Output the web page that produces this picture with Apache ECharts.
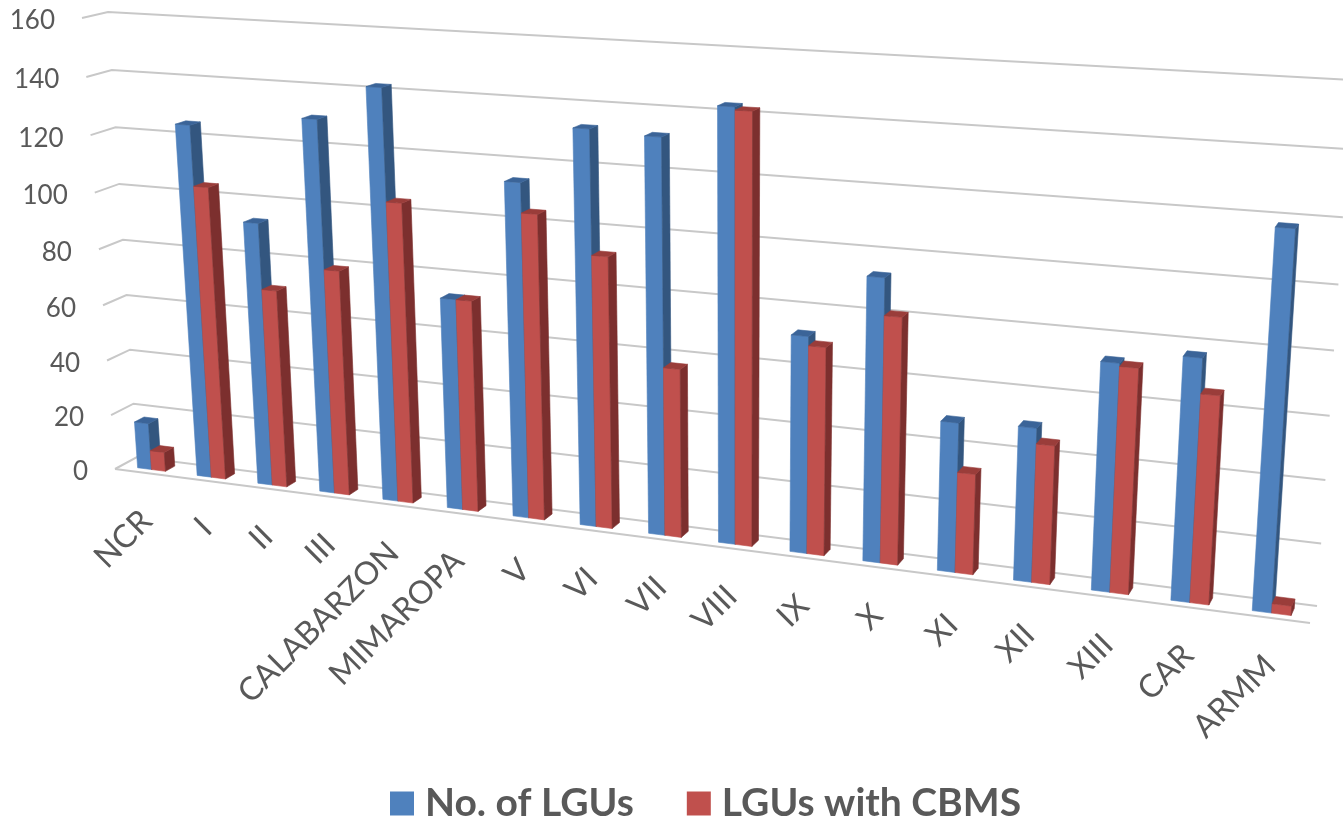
<!DOCTYPE html>
<html><head><meta charset="utf-8">
<style>html,body{margin:0;padding:0;background:#fff}#c{width:1343px;height:821px}</style>
<script src="https://cdn.jsdelivr.net/npm/echarts@6/dist/echarts.min.js"></script>
</head><body><div id="c"></div>
<script>
const categories = ['NCR','I','II','III','CALABARZON','MIMAROPA','V','VI','VII','VIII','IX','X','XI','XII','XIII','CAR','ARMM'];
const lguCount  = [17,125,93,130,142,73,114,133,132,143,72,93,49,50,73,77,118];
const cbmsCount = [7,104,70,79,104,73,104,92,57,142,69,81,33,45,72,66,3];
const valueTicks = [0,20,40,60,80,100,120,140,160];
const seriesNames = ['No. of LGUs','LGUs with CBMS'];

// Perspective of the chart's box: corners [bottom-left, bottom-right, top-right, top-left]
const frontPlane = [[115,469],[1310,623],[1346,88],[82,18]];
const backPlane  = [[137,457],[1317,606],[1352,80],[108,12]];
const barDepth = [0.28, 0.71];
const barWidth = 0.235;
const GREY = '#595959', FONT = 'Lato';

function homography(q){
  const [x0,y0]=q[0],[x1,y1]=q[1],[x2,y2]=q[2],[x3,y3]=q[3];
  const dx1=x1-x2,dx2=x3-x2,sx=x0-x1+x2-x3,dy1=y1-y2,dy2=y3-y2,sy=y0-y1+y2-y3;
  const den=dx1*dy2-dx2*dy1,g=(sx*dy2-dx2*sy)/den,h=(dx1*sy-sx*dy1)/den;
  const a=x1-x0+g*x1,b=x3-x0+h*x3,d=y1-y0+g*y1,e=y3-y0+h*y3;
  return (u,v)=>{const w=g*u+h*v+1;return [(a*u+b*v+x0)/w,(d*u+e*v+y0)/w];};
}
const hFront=homography(frontPlane), hBack=homography(backPlane);
function project(u,v,depth){
  const f=hFront(u,v),b=hBack(u,v);
  return [f[0]+(b[0]-f[0])*depth,f[1]+(b[1]-f[1])*depth];
}
function toUnit(params,pt){
  const g=params.coordSys;
  return [(pt[0]-g.x)/g.width,(g.y+g.height-pt[1])/g.height];
}
function face(points,color){
  return {type:'polygon',shape:{points},style:{fill:color,stroke:color,lineWidth:0.6}};
}
function barRenderer(offset,colors){
  return function(params,api){
    const i=api.value(0),val=api.value(1),band=api.size([1,0])[0];
    const top=api.coord([i,val]),base=api.coord([i,0]);
    const [ua,v1]=toUnit(params,[top[0]+offset*band,top[1]]);
    const [ub]=toUnit(params,[top[0]+(offset+barWidth)*band,top[1]]);
    const [,v0]=toUnit(params,base);
    const [d0,d1]=barDepth;
    return {type:'group',children:[
      face([project(ua,v0,d0),project(ub,v0,d0),project(ub,v1,d0),project(ua,v1,d0)],colors[0]),
      face([project(ub,v0,d0),project(ub,v0,d1),project(ub,v1,d1),project(ub,v1,d0)],colors[1]),
      face([project(ua,v1,d0),project(ub,v1,d0),project(ub,v1,d1),project(ua,v1,d1)],colors[2])
    ]};
  };
}
function gridRenderer(params,api){
  const val=api.value(1),[,v]=toUnit(params,api.coord([0,val]));
  const children=[{type:'polyline',shape:{points:[project(0,v,0),project(0,v,1),project(1,v,1)]},
    style:{fill:null,stroke:'#c8c8c8',lineWidth:2}}];
  if(val===0)children.push({type:'line',shape:{x1:project(0,0,0)[0],y1:project(0,0,0)[1],x2:project(1,0,0)[0],y2:project(1,0,0)[1]},
    style:{stroke:'#c8c8c8',lineWidth:2}});
  const p=project(0,v,0);
  children.push({type:'text',x:p[0]-27,y:p[1]+3,style:{text:String(val),align:'right',verticalAlign:'middle',
    fill:GREY,font:'26px '+FONT}});
  return {type:'group',children};
}
function catLabelRenderer(params,api){
  const i=api.value(0),[u,v]=toUnit(params,api.coord([i,0]));
  const p=project(u,v,0);
  return {type:'text',x:p[0]+2,y:p[1]+43,rotation:Math.PI/4,style:{text:categories[i],align:'right',verticalAlign:'middle',
    fill:GREY,font:'32px '+FONT}};
}
const chart=echarts.init(document.getElementById('c'),null,{renderer:'canvas'});
chart.setOption({
  animation:false,
  backgroundColor:'#fff',
  grid:{left:115,right:33,top:18,bottom:352},
  xAxis:{type:'category',data:categories,show:false},
  yAxis:{type:'value',min:0,max:160,interval:20,show:false},
  legend:{data:seriesNames,left:390,top:784,padding:0,icon:'rect',itemWidth:24,itemHeight:24,itemGap:53,
    textStyle:{color:GREY,fontFamily:FONT,fontWeight:'bold',fontSize:39,padding:[0,0,0,6]}},
  series:[
    {type:'custom',name:'grid',data:valueTicks.map(t=>[0,t]),encode:{x:0,y:1},renderItem:gridRenderer,silent:true,z:1},
    {type:'custom',name:'labels',data:categories.map((c,i)=>[i,0]),encode:{x:0,y:1},renderItem:catLabelRenderer,silent:true,z:1},
    {type:'custom',name:seriesNames[0],itemStyle:{color:'#4F81BD'},data:lguCount.map((v,i)=>[i,v]),encode:{x:0,y:1},
      renderItem:barRenderer(-0.22,['#4F81BD','#33567F','#3B6498']),z:2},
    {type:'custom',name:seriesNames[1],itemStyle:{color:'#C0504D'},data:cbmsCount.map((v,i)=>[i,v]),encode:{x:0,y:1},
      renderItem:barRenderer(-0.22+barWidth,['#C0504D','#7C2F2E','#9A3D3A']),z:3}
  ]
});
</script></body></html>
